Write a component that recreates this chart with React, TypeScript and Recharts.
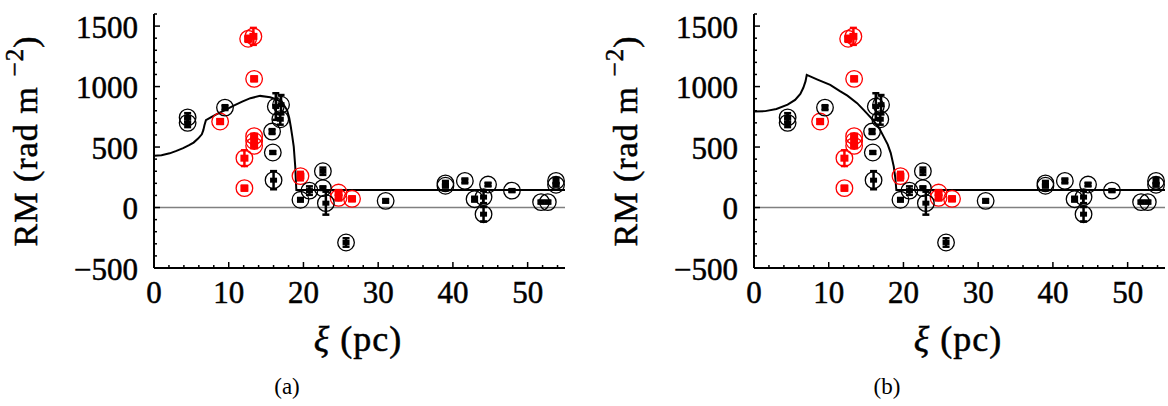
import React from 'react';
import { ScatterChart, Scatter, XAxis, YAxis, ErrorBar, ReferenceLine } from 'recharts';

// ---- data (xi in pc, RM in rad m^-2, err = half-length of error bar) ----
const blackPoints = [
  { x: 4.5, y: 745, err: 35 },
  { x: 4.5, y: 700, err: 35 },
  { x: 9.5, y: 826, err: 20 },
  { x: 15.8, y: 628, err: 20 },
  { x: 15.9, y: 455, err: 12 },
  { x: 16.0, y: 226, err: 75 },
  { x: 16.3, y: 835, err: 110 },
  { x: 17.0, y: 850, err: 80 },
  { x: 16.9, y: 730, err: 45 },
  { x: 19.6, y: 64, err: 15 },
  { x: 20.8, y: 140, err: 35 },
  { x: 22.6, y: 300, err: 30 },
  { x: 22.6, y: 160, err: 15 },
  { x: 23.0, y: 36, err: 95 },
  { x: 25.7, y: -289, err: 35 },
  { x: 31.0, y: 55, err: 15 },
  { x: 39.0, y: 200, err: 20 },
  { x: 39.0, y: 180, err: 15 },
  { x: 41.6, y: 220, err: 20 },
  { x: 42.9, y: 69, err: 20 },
  { x: 44.1, y: 86, err: 50 },
  { x: 44.1, y: -55, err: 60 },
  { x: 44.7, y: 190, err: 15 },
  { x: 47.9, y: 140, err: 12 },
  { x: 51.8, y: 45, err: 12 },
  { x: 52.7, y: 45, err: 12 },
  { x: 53.8, y: 220, err: 25 },
  { x: 53.8, y: 188, err: 15 },
];

const redPoints = [
  { x: 12.6, y: 1395, err: 25 },
  { x: 13.3, y: 1415, err: 70 },
  { x: 13.4, y: 1064, err: 20 },
  { x: 8.85, y: 711, err: 20 },
  { x: 13.4, y: 590, err: 15 },
  { x: 13.4, y: 550, err: 40 },
  { x: 13.4, y: 510, err: 15 },
  { x: 12.1, y: 408, err: 65 },
  { x: 12.1, y: 160, err: 20 },
  { x: 19.6, y: 260, err: 35 },
  { x: 24.7, y: 124, err: 20 },
  { x: 24.7, y: 80, err: 20 },
  { x: 26.5, y: 72, err: 20 },
];

const modelA = [
  { x: 0, y: 427 }, { x: 1, y: 432 }, { x: 2.1, y: 448 }, { x: 3.0, y: 468 },
  { x: 3.9, y: 491 }, { x: 4.7, y: 515 }, { x: 5.3, y: 537 }, { x: 5.9, y: 570 },
  { x: 6.4, y: 605 }, { x: 6.6, y: 640 }, { x: 6.75, y: 680 }, { x: 6.95, y: 722 },
  { x: 7.6, y: 745 }, { x: 8.4, y: 772 }, { x: 9.5, y: 805 }, { x: 10.6, y: 840 },
  { x: 11.8, y: 875 }, { x: 12.9, y: 904 }, { x: 14.2, y: 923 }, { x: 15.55, y: 912 },
  { x: 16.4, y: 893 }, { x: 16.9, y: 876 }, { x: 17.4, y: 845 }, { x: 17.8, y: 807 },
  { x: 18.1, y: 740 }, { x: 18.3, y: 670 }, { x: 18.5, y: 590 }, { x: 18.7, y: 504 },
  { x: 18.9, y: 339 }, { x: 19.0, y: 201 }, { x: 19.05, y: 145 }, { x: 55, y: 145 },
];

const modelB = [
  { x: 0, y: 793 }, { x: 1.5, y: 797 }, { x: 3, y: 815 }, { x: 4.5, y: 850 },
  { x: 5.5, y: 890 }, { x: 6.2, y: 940 }, { x: 6.6, y: 990 }, { x: 6.9, y: 1045 },
  { x: 7.06, y: 1097 }, { x: 8.5, y: 1058 }, { x: 10.2, y: 1014 }, { x: 11.5, y: 962 },
  { x: 12.5, y: 925 }, { x: 13.8, y: 863 }, { x: 14.7, y: 805 }, { x: 16.0, y: 718 },
  { x: 16.8, y: 650 }, { x: 17.4, y: 580 }, { x: 17.9, y: 520 }, { x: 18.3, y: 450 },
  { x: 18.7, y: 340 }, { x: 18.9, y: 250 }, { x: 19.0, y: 180 }, { x: 19.05, y: 145 },
  { x: 55, y: 145 },
];

const xMajorTicks = [0, 10, 20, 30, 40, 50];
const xAllTicks = [0, 2, 4, 6, 8, 10, 12, 14, 16, 18, 20, 22, 24, 26, 28, 30, 32, 34, 36, 38, 40, 42, 44, 46, 48, 50, 52, 54];
const yMajorTicks = [-500, 0, 500, 1000, 1500];
const yAllTicks = [-500, -400, -300, -200, -100, 0, 100, 200, 300, 400, 500, 600, 700, 800, 900, 1000, 1100, 1200, 1300, 1400, 1500, 1600];

const FONT = "'Liberation Serif', 'Times New Roman', serif";
const RED = '#ff0000';

const fmt = (v: number) => (v < 0 ? '\u2212' + Math.abs(v) : String(v));

const XTick = (props: any) => {
  const { x, y, payload } = props;
  const v = payload.value;
  const major = xMajorTicks.includes(v);
  return (
    <g>
      <line x1={x} x2={x} y1={y} y2={y - (major ? 6 : 3)} stroke="#000" strokeWidth={1.5} />
      {major && (
        <text x={x} y={y + 35} textAnchor="middle" fontSize={31} fontFamily={FONT} fill="#000" stroke="#000" strokeWidth={0.5}>
          {fmt(v)}
        </text>
      )}
    </g>
  );
};

const YTick = (props: any) => {
  const { x, y, payload } = props;
  const v = payload.value;
  const major = yMajorTicks.includes(v);
  return (
    <g>
      <line x1={x} x2={x + (major ? 6 : 3)} y1={y} y2={y} stroke="#000" strokeWidth={1.5} />
      {major && (
        <text x={x - 16} y={y + 11.5} textAnchor="end" fontSize={31} fontFamily={FONT} fill="#000" stroke="#000" strokeWidth={0.5}>
          {fmt(v)}
        </text>
      )}
    </g>
  );
};

const makeMarker = (color: string, w: number, h: number) => (props: any) => {
  const { cx, cy } = props;
  if (cx == null || cy == null) return <g />;
  return (
    <g>
      <circle cx={cx} cy={cy} r={8.3} fill="none" stroke={color} strokeWidth={1.3} />
      <rect x={cx - w / 2} y={cy - h / 2} width={w} height={h} fill={color} />
    </g>
  );
};

const blackMarker = makeMarker('#000', 7, 5);
const redMarker = makeMarker(RED, 8, 7);
const noMarker = () => <g />;

const Panel = ({ model, width, right }: { model: { x: number; y: number }[]; width: number; right: number }) => (
  <ScatterChart width={width} height={406} margin={{ top: 14, right, bottom: 78, left: 0 }}>
    <XAxis
      type="number"
      dataKey="x"
      domain={[0, 55]}
      ticks={xAllTicks}
      interval={0}
      tick={<XTick />}
      tickLine={false}
      tickSize={0}
      tickMargin={0}
      height={60}
      axisLine={{ stroke: '#000', strokeWidth: 2 }}
      allowDataOverflow
    />
    <YAxis
      type="number"
      dataKey="y"
      domain={[-500, 1600]}
      ticks={yAllTicks}
      interval={0}
      tick={<YTick />}
      tickLine={false}
      tickSize={0}
      tickMargin={0}
      width={154}
      axisLine={{ stroke: '#000', strokeWidth: 2 }}
      allowDataOverflow
    />
    <ReferenceLine y={0} stroke="#808080" strokeWidth={1.5} />
    <Scatter
      data={model}
      fill="none"
      line={{ stroke: '#000', strokeWidth: 2, fill: 'none' }}
      shape={noMarker}
      isAnimationActive={false}
    />
    <Scatter data={redPoints} fill={RED} shape={redMarker} isAnimationActive={false}>
      <ErrorBar dataKey="err" direction="y" width={3.5} strokeWidth={2.5} stroke={RED} />
    </Scatter>
    <Scatter data={blackPoints} fill="#000" shape={blackMarker} isAnimationActive={false}>
      <ErrorBar dataKey="err" direction="y" width={3.5} strokeWidth={2.5} stroke="#000" />
    </Scatter>
  </ScatterChart>
);

const Labels = ({ dx, caption }: { dx: number; caption: string }) => (
  <g transform={`translate(${dx},0)`} fontFamily={FONT} fill="#000">
    <text
      x={37}
      y={141}
      textAnchor="middle"
      fontSize={34}
      letterSpacing={1}
      stroke="#000"
      strokeWidth={0.5}
      transform="rotate(-90 37 141)"
    >
      RM (rad m
      <tspan dx={10} dy={-14} fontSize={25}>{'\u22122'}</tspan>
      <tspan dy={14}>)</tspan>
    </text>
    <text x={358} y={351} textAnchor="middle" fontSize={36} letterSpacing={1} stroke="#000" strokeWidth={0.5}>
      <tspan fontStyle="italic">ξ</tspan> (pc)
    </text>
    <text x={287} y={394} textAnchor="middle" fontSize={23}>
      {caption}
    </text>
  </g>
);

export default function App() {
  return (
    <div style={{ position: 'absolute', left: 0, top: 0, width: 1168, height: 406, overflow: 'hidden', background: '#fff' }}>
      <div style={{ position: 'absolute', left: 0, top: 0 }}>
        <Panel model={modelA} width={584} right={19} />
      </div>
      <div style={{ position: 'absolute', left: 600, top: 0 }}>
        <Panel model={modelB} width={568} right={3} />
      </div>
      <svg width={1168} height={406} style={{ position: 'absolute', left: 0, top: 0, pointerEvents: 'none' }}>
        <Labels dx={0} caption="(a)" />
        <Labels dx={600} caption="(b)" />
      </svg>
    </div>
  );
}
